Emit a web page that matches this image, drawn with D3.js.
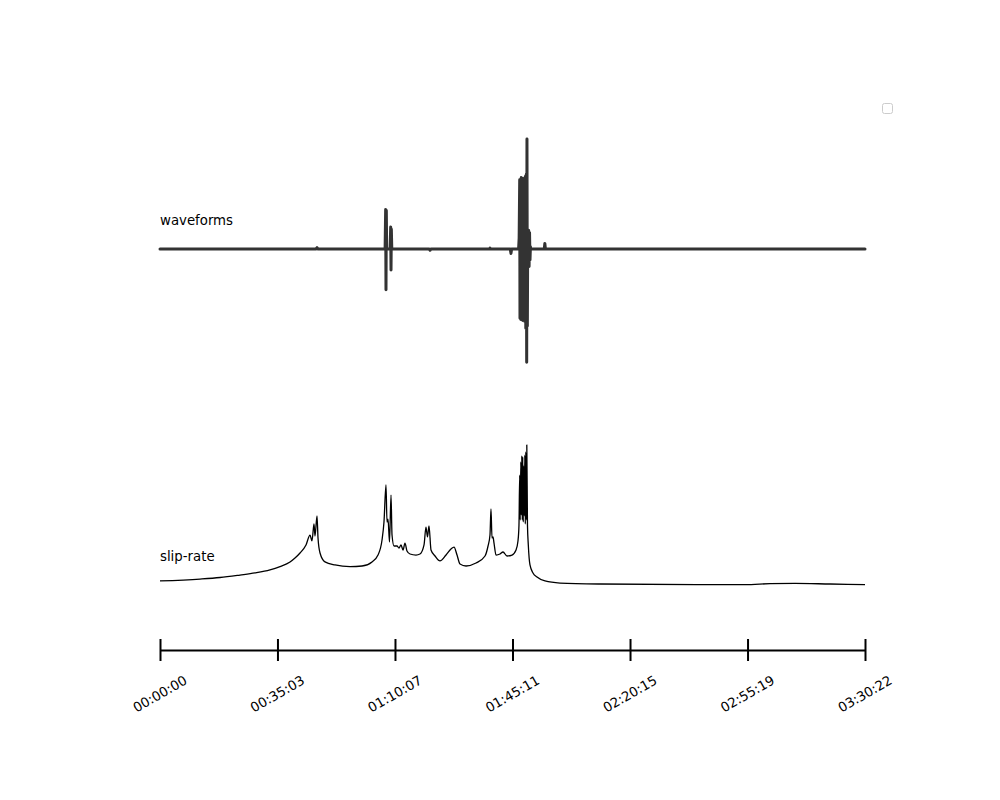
<!DOCTYPE html>
<html>
<head>
<meta charset="utf-8">
<script src="https://cdn.jsdelivr.net/npm/d3@7/dist/d3.min.js"></script>
<style>
  body { margin: 0; background: #fff; }
  text { font-family: "DejaVu Sans", sans-serif; }
</style>
</head>
<body>
<svg id="chart" width="1000" height="800"></svg>
<script>
// time in seconds since start
let tMax = 12622;
let tickTimes = [0, 2103, 4207, 6311, 8415, 10519, 12622];
let tickLabels = ['00:00:00', '00:35:03', '01:10:07', '01:45:11', '02:20:15', '02:55:19', '03:30:22'];

// waveform samples [t, amplitude] (normalised)
let waveT = [0, 2790, 2811, 2830, 4030, 4040, 4046, 4052, 4058, 4120, 4130, 4136, 4142, 4150,
  4820, 4834, 4850, 5900, 5908, 5916, 6270, 6284, 6295,
  6420, 6430, 6440, 6445, 6452, 6460, 6468, 6477, 6486, 6495, 6504, 6513, 6522, 6531, 6540, 6549,
  6558, 6565, 6570, 6577, 6584, 6592, 6600, 6608, 6616, 6624, 6632, 6640, 6880, 6890, 6900, 12622];
let waveV = [0, 0, 0.012, 0, 0, 0.36, -0.37, 0.35, 0, 0, 0.2, -0.19, 0.18, 0,
  0, -0.012, 0, 0, 0.008, 0, 0, -0.04, 0,
  0, 0.1, 0.63, -0.63, 0.63, -0.64, 0.65, -0.64, 0.63, -0.65, 0.64, -0.63, 0.63, -0.66, 0.66, -0.72,
  0.68, -1.03, 1.0, -0.7, 0.17, -0.16, 0.17, -0.16, 0.15, -0.1, 0.02, 0, 0, 0.05, 0, 0];

// slip-rate samples [t, value] (normalised)
let slipT = [0, 716, 1074, 1432, 1701, 1969, 2148, 2328, 2417, 2507, 2614, 2686, 2721, 2757, 2775, 2811, 2829, 2865, 2954,
  3133, 3402, 3617, 3796, 3903, 3975, 4010, 4046, 4064, 4082, 4109, 4136, 4154, 4190, 4243, 4279,
  4315, 4351, 4386, 4422, 4476, 4583, 4655, 4727, 4762, 4789, 4816, 4852, 4924, 5013, 5121, 5210,
  5264, 5318, 5371, 5479, 5658, 5819, 5873, 5908, 5926, 5944, 5962, 5980, 6016, 6087, 6141, 6213,
  6302, 6374, 6409, 6427, 6440, 6449, 6460, 6468, 6477, 6486, 6495, 6504, 6513, 6522, 6531, 6540,
  6549, 6558, 6567, 6579, 6594, 6624, 6678, 6750, 6893, 7162, 7878, 9668, 10474, 10921, 11369, 11996, 12622];
let slipV = [0.119, 0.131, 0.1406, 0.156, 0.169, 0.188, 0.209, 0.238, 0.2625, 0.294, 0.344, 0.406, 0.369, 0.475, 0.40, 0.525, 0.388, 0.294, 0.238,
  0.219, 0.209, 0.2125, 0.238, 0.281, 0.375, 0.4875, 0.719, 0.4875, 0.506, 0.3625, 0.656, 0.406, 0.3375, 0.3375, 0.325,
  0.344, 0.3125, 0.356, 0.306, 0.2875, 0.281, 0.2875, 0.344, 0.456, 0.394, 0.4625, 0.3125, 0.275, 0.244, 0.281, 0.319,
  0.331, 0.281, 0.225, 0.2125, 0.231, 0.275, 0.3375, 0.406, 0.569, 0.3875, 0.394, 0.356, 0.281, 0.2875, 0.3, 0.275,
  0.281, 0.3125, 0.369, 0.469, 0.781, 0.5, 0.8625, 0.531, 0.9, 0.5, 0.894, 0.4875, 0.8375, 0.525, 0.906, 0.475,
  0.925, 0.5, 0.969, 0.469, 0.344, 0.219, 0.169, 0.144, 0.119, 0.106, 0.1, 0.096, 0.096, 0.102, 0.104, 0.1, 0.096];

let svg = d3.select('#chart');

let x = d3.scaleLinear().domain([0, tMax]).range([160, 865]);
let yWave = d3.scaleLinear().domain([-1, 1]).range([359, 139]);
let ySlip = d3.scaleLinear().domain([0, 1]).range([600, 440]);

let wave = waveT.map((t, i) => [t, waveV[i]]);
let slip = slipT.map((t, i) => [t, slipV[i]]);

svg.append('path')
    .datum(wave)
    .attr('d', d3.line().x(d => x(d[0])).y(d => yWave(d[1])))
    .attr('fill', 'none')
    .attr('stroke', '#333')
    .attr('stroke-width', 3)
    .attr('stroke-linejoin', 'round')
    .attr('stroke-linecap', 'round');

svg.append('path')
    .datum(slip)
    .attr('d', d3.line().curve(d3.curveMonotoneX).x(d => x(d[0])).y(d => ySlip(d[1])))
    .attr('fill', 'none')
    .attr('stroke', '#000')
    .attr('stroke-width', 1.3)
    .attr('stroke-linejoin', 'round');

svg.append('text')
    .attr('x', 160)
    .attr('y', 225)
    .attr('font-size', 13.3)
    .text('waveforms');

svg.append('text')
    .attr('x', 160)
    .attr('y', 561)
    .attr('font-size', 13.3)
    .text('slip-rate');

// time axis, ticks crossing the line
let axis = svg.append('g')
    .attr('transform', 'translate(0,650)')
    .call(d3.axisBottom(x).tickValues(tickTimes).tickSize(11).tickSizeOuter(0).tickFormat(''));

axis.select('.domain')
    .attr('stroke', '#000')
    .attr('stroke-width', 2);

axis.selectAll('.tick line')
    .attr('y1', -11)
    .attr('stroke', '#000')
    .attr('stroke-width', 2);

axis.selectAll('.tick text').remove();

svg.append('g')
    .selectAll('text')
    .data(tickTimes)
    .join('text')
    .attr('transform', d => `translate(${x(d)},694) rotate(-30)`)
    .attr('text-anchor', 'middle')
    .attr('dominant-baseline', 'central')
    .attr('font-size', 13.3)
    .text((d, i) => tickLabels[i]);

// empty legend box
svg.append('rect')
    .attr('x', 882.5)
    .attr('y', 103.5)
    .attr('width', 10)
    .attr('height', 10)
    .attr('rx', 2)
    .attr('fill', '#fff')
    .attr('stroke', '#ccc')
    .attr('stroke-width', 1);
</script>
</body>
</html>
